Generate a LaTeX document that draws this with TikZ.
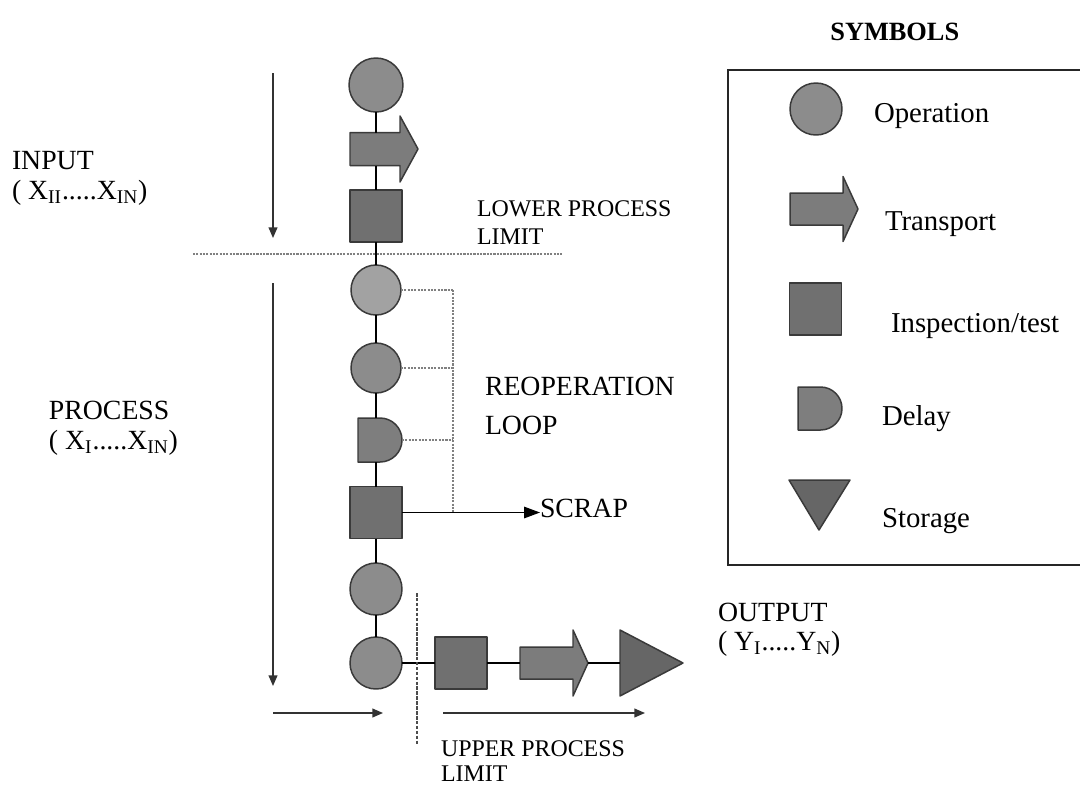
\documentclass[tikz,border=0pt]{standalone}
\usepackage{fontspec}
\setmainfont{Liberation Serif}
\usetikzlibrary{arrows.meta,shapes.misc}
\definecolor{opfill}{HTML}{8C8C8C}
\definecolor{oplight}{HTML}{A2A2A2}
\definecolor{inspfill}{HTML}{707070}
\definecolor{transfill}{HTML}{7C7C7C}
\definecolor{delayfill}{HTML}{7E7E7E}
\definecolor{storefill}{HTML}{666666}
\definecolor{edge}{HTML}{3A3A3A}
\def\u{0.02cm}
\newcommand\TransArrow[7]{%
  \node[bodybox, minimum width={(#4-#2)*\u}, minimum height={2*#5*\u}] (#1) at ({(#2+#4)/2},#3) {};
  \draw[shapeline, fill=transfill] (#2,{#3-#5}) -- (#4,{#3-#5}) -- (#4,{#3-#7}) -- (#6,#3) -- (#4,{#3+#7}) -- (#4,{#3+#5}) -- (#2,{#3+#5}) -- cycle;
  \coordinate (#1tip) at (#6,#3);
}
\begin{document}
\begin{tikzpicture}[x={(0.02cm,0)}, y={(0,-0.02cm)},
  shapeline/.style={draw=edge, line width=0.85pt, line join=round},
  bodybox/.style={rectangle, inner sep=0, outer sep=0, draw=none},
  opnode/.style={circle, shapeline, fill=opfill, inner sep=0, outer sep=0, minimum size=#1*\u},
  opnode/.default=52,
  inspnode/.style={rectangle, shapeline, fill=inspfill, inner sep=0, outer sep=0, minimum size=#1*\u},
  inspnode/.default=52,
  delaynode/.style={rounded rectangle, rounded rectangle west arc=none, shapeline, fill=delayfill, inner sep=0, outer sep=0, minimum width=44*\u, minimum height=44*\u},
  conn/.style={draw=black, line width=0.75pt},
  loopline/.style={draw=gray, line width=0.8pt, dash pattern=on 1.2pt off 0.7pt},
  limitline/.style={draw=gray, line width=0.9pt, dash pattern=on 1.2pt off 0.7pt},
  flowarrow/.style={draw=black!80, line width=0.75pt, -{Triangle[length=6pt,width=5pt]}},
  lbl/.style={inner sep=0, outer sep=0, anchor=base west, font=\fontsize{15.8}{19}\selectfont},
  smalllbl/.style={inner sep=0, outer sep=0, anchor=base west, font=\fontsize{13.6}{16}\selectfont},
  leglbl/.style={inner sep=0, outer sep=0, anchor=base west, font=\fontsize{16.4}{19}\selectfont}
]
\useasboundingbox (0,0) rectangle (1080,785);

% ---------- main column ----------
\node[opnode=54] (c1) at (376,85) {};
\TransArrow{t1}{350}{149}{400}{16.5}{418}{33}
\node[inspnode] (s1) at (376,216) {};
\node[opnode=50, fill=oplight] (c2) at (376,290) {};
\node[opnode=50] (c3) at (376,368) {};
\node[delaynode] (d1) at (380,440) {};
\node[inspnode] (s2) at (376,512.5) {};
\node[opnode] (c4) at (376,589) {};
\node[opnode] (c5) at (376,663) {};
\node[inspnode] (s3) at (461,663) {};
\TransArrow{t3}{520}{663}{573}{16}{588}{33}
\draw[shapeline, fill=storefill] (620,630) -- (683,663) -- (620,696) -- cycle;
\coordinate (st) at (620,663);

% connectors along the column
\draw[conn] (c1.south) -- (c1.south |- t1.north);
\draw[conn] (c1.south |- t1.south) -- (s1.north);
\draw[conn] (s1.south) -- (c2.north);
\draw[conn] (c2.south) -- (c3.north);
\draw[conn] (c3.south) -- (c3.south |- d1.north);
\draw[conn] (c3.south |- d1.south) -- (s2.north);
\draw[conn] (s2.south) -- (c4.north);
\draw[conn] (c4.south) -- (c5.north);
\draw[conn] (c5.east) -- (s3.west);
\draw[conn] (s3.east) -- (t3.west);
\draw[conn] (t3tip) -- (st);

% reoperation loop
\coordinate (lp1) at (453,290);
\coordinate (lp2) at (453,368);
\coordinate (lp3) at (453,440);
\coordinate (lp4) at (453,512.5);
\draw[loopline] (c2.east) -- (lp1);
\draw[loopline] (c3.east) -- (lp2);
\draw[loopline] (d1.east) -- (lp3);
\draw[loopline] (lp1) -- (lp4);

% scrap
\node[lbl] (scrap) at (540,517) {SCRAP};
\draw[conn, -{Triangle[length=9pt,width=6.5pt]}] (s2.east) -- (s2.east -| scrap.west);

% process limits
\coordinate (ll1) at (193,254);
\coordinate (ll2) at (563,254);
\draw[limitline] (ll1) -- (ll2);
\coordinate (ul1) at (417,593);
\coordinate (ul2) at (417,745);
\draw[draw=black!70, line width=0.8pt, dash pattern=on 2pt off 0.8pt] (ul1) -- (ul2);

% flow arrows
\coordinate (ia) at (273,73);
\coordinate (ib) at (273,238);
\coordinate (pa) at (273,283);
\coordinate (pb) at (273,686);
\coordinate (ba) at (273,713);
\coordinate (bb) at (383,713);
\coordinate (oa) at (443,713);
\coordinate (ob) at (645,713);
\draw[flowarrow] (ia) -- (ib);
\draw[flowarrow] (pa) -- (pb);
\draw[flowarrow] (ba) -- (bb);
\draw[flowarrow] (oa) -- (ob);

% labels
\node[lbl] (in1) at (12,169) {INPUT};
\node[lbl] (in2) at (12,199) {( X\textsubscript{II}.....X\textsubscript{IN})};
\node[smalllbl] (lo1) at (477,216) {LOWER PROCESS};
\node[smalllbl] (lo2) at (477,244) {LIMIT};
\node[lbl] (pr1) at (49,419) {PROCESS};
\node[lbl] (pr2) at (49,449) {( X\textsubscript{I}.....X\textsubscript{IN})};
\node[lbl] (re1) at (485,395) {REOPERATION};
\node[lbl] (re2) at (485,434) {LOOP};
\node[lbl] (ou1) at (718,621) {OUTPUT};
\node[lbl] (ou2) at (718,650) {( Y\textsubscript{I}.....Y\textsubscript{N})};
\node[smalllbl] (up1) at (441,756) {UPPER PROCESS};
\node[smalllbl] (up2) at (441,781) {LIMIT};

% ---------- legend ----------
\node[inner sep=0, anchor=base west, font=\fontsize{15}{18}\selectfont\bfseries] (sym) at (830,40) {SYMBOLS};
\coordinate (bx1) at (1080,70);
\coordinate (bx2) at (728,70);
\coordinate (bx3) at (728,565);
\coordinate (bx4) at (1080,565);
\draw[draw=black!85, line width=0.9pt] (bx1) -- (bx2) -- (bx3) -- (bx4);

\node[opnode] (lc) at (816,109) {};
\node[leglbl] (lcl) at (874,122) {Operation};
\TransArrow{lt}{790}{209}{843}{16}{858}{32.5}
\node[leglbl] (ltl) at (885,230) {Transport};
\node[inspnode] (ls) at (815.5,309) {};
\node[leglbl] (lsl) at (891,332) {Inspection/test};
\node[delaynode, minimum height=43*\u] (ld) at (820,408.5) {};
\node[leglbl] (ldl) at (882,425) {Delay};
\draw[shapeline, fill=storefill] (789,480) -- (850,480) -- (819,530) -- cycle;
\node[leglbl] (lst) at (882,527) {Storage};
\end{tikzpicture}
\end{document}
